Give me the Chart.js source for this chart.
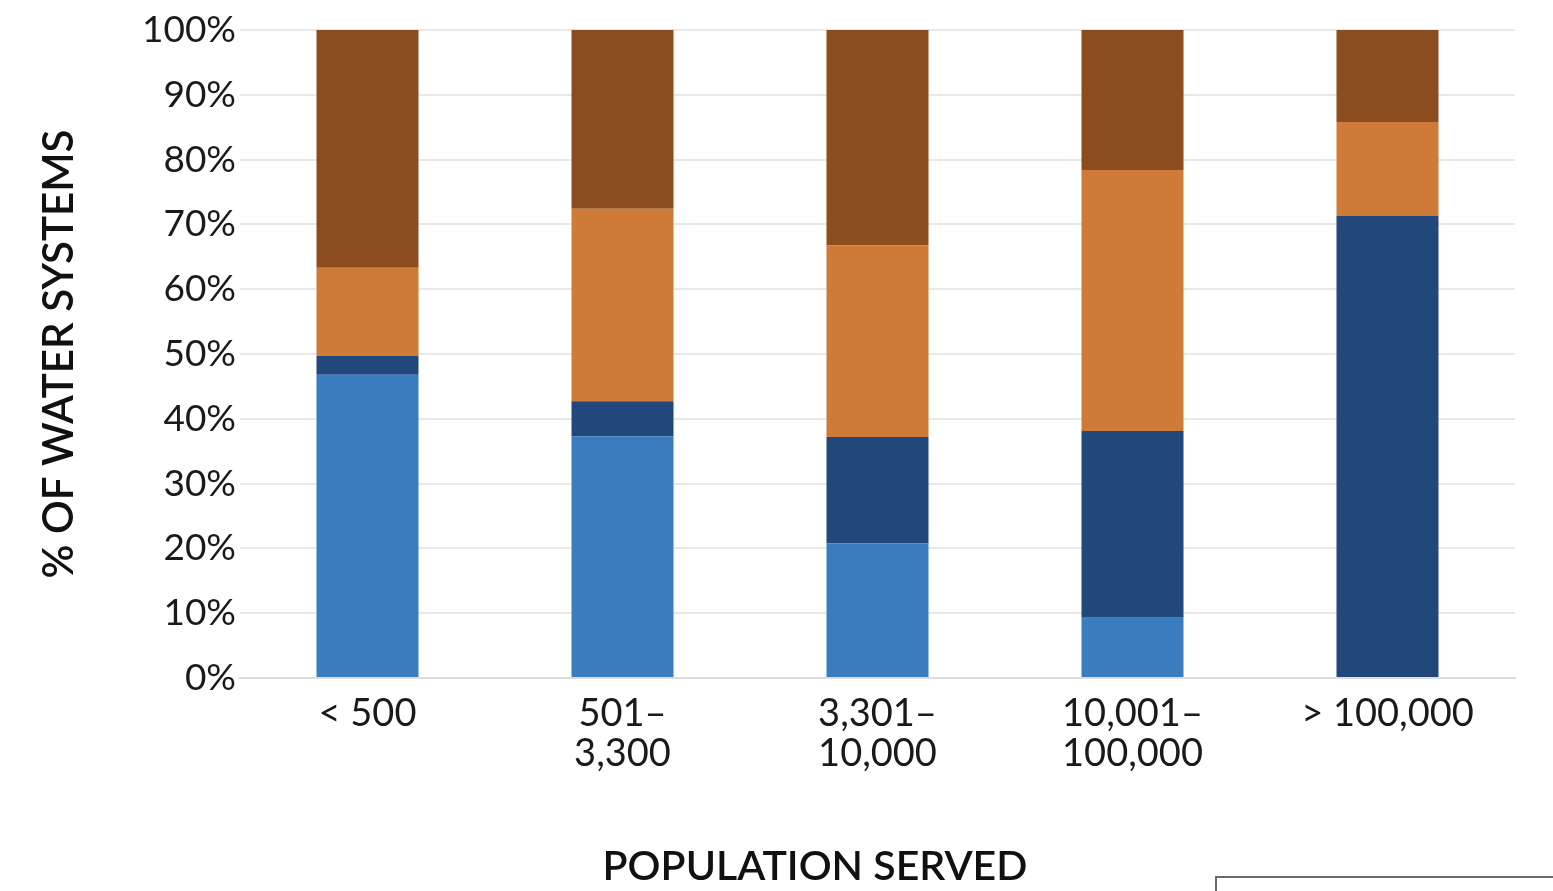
<!DOCTYPE html>
<html>
<head>
<meta charset="utf-8">
<script src="https://cdn.jsdelivr.net/npm/chart.js@4/dist/chart.umd.min.js"></script>
<style>
    html, body { margin: 0; padding: 0; background: #fff; overflow: hidden; }
    #wrap { position: relative; width: 1553px; height: 891px; }
    #legend-box { position: absolute; left: 1215px; top: 876px; width: 400px; height: 80px; border: 2px solid #6b6b6b; box-sizing: border-box; }
</style>
</head>
<body>
<div id="wrap">
    <canvas id="chart"></canvas>
    <div id="legend-box"></div>
</div>
<script>
// Population served categories
const categories = [['< 500'], ['501–', '3,300'], ['3,301–', '10,000'], ['10,001–', '100,000'], ['> 100,000']];

// Share of water systems (%), bottom to top of each stack
const lightBlueValues = [46.8, 37.3, 20.8, 9.3, 0];
const navyValues = [2.9, 5.4, 16.4, 28.8, 71.3];
const orangeValues = [13.6, 29.7, 29.6, 40.3, 14.5];
const brownValues = [36.7, 27.6, 33.2, 21.6, 14.2];

const yTicks = [0, 10, 20, 30, 40, 50, 60, 70, 80, 90, 100];

const xTitle = 'POPULATION SERVED';
const yTitle = '% OF WATER SYSTEMS';

const FONT = 'Lato, "Open Sans", sans-serif';

function series(data, color) {
    return {
        data: data,
        backgroundColor: color,
        borderWidth: 0,
        barPercentage: 0.4,
        categoryPercentage: 1.0
    };
}

// x-axis title sits a bit left of the plot centre in the original
const xTitlePlugin = {
    id: 'xTitle',
    afterDraw(chart) {
        const ctx = chart.ctx;
        ctx.save();
        ctx.font = '600 41px ' + FONT;
        ctx.fillStyle = '#111';
        ctx.textAlign = 'center';
        ctx.textBaseline = 'middle';
        ctx.fillText(xTitle, 815, 867);
        ctx.restore();
    }
};

new Chart(document.getElementById('chart'), {
    type: 'bar',
    data: {
        labels: categories,
        datasets: [
            series(lightBlueValues, '#397dbf'),
            series(navyValues, '#22477b'),
            series(orangeValues, '#cf7b37'),
            series(brownValues, '#8b4c1e')
        ]
    },
    plugins: [xTitlePlugin],
    options: {
        responsive: true,
        maintainAspectRatio: false,
        animation: false,
        layout: { padding: { top: 30, right: 38, bottom: 0, left: 0 } },
        plugins: {
            legend: { display: false },
            tooltip: { enabled: false }
        },
        scales: {
            x: {
                stacked: true,
                grid: { display: false, drawTicks: false },
                border: { color: '#dcdcdc', width: 2 },
                ticks: {
                    color: '#1a1a1a',
                    font: { family: FONT, size: 38, lineHeight: 1.05 },
                    padding: 16,
                    maxRotation: 0,
                    autoSkip: false
                },
                afterFit: (scale) => { scale.height = 213; }
            },
            y: {
                stacked: true,
                min: 0,
                max: 100,
                afterBuildTicks: (scale) => { scale.ticks = yTicks.map(v => ({ value: v })); },
                grid: { color: '#e8e8e8', lineWidth: 2, drawTicks: false },
                border: { display: false },
                ticks: {
                    color: '#1a1a1a',
                    font: { family: FONT, size: 37 },
                    padding: 4,
                    callback: (v) => v + '%'
                },
                title: {
                    display: true,
                    text: yTitle,
                    color: '#111',
                    font: { family: FONT, size: 42, weight: '600' },
                    padding: { top: 34, bottom: 0 }
                },
                afterFit: (scale) => { scale.width = 240; }
            }
        }
    }
});
</script>
</body>
</html>
